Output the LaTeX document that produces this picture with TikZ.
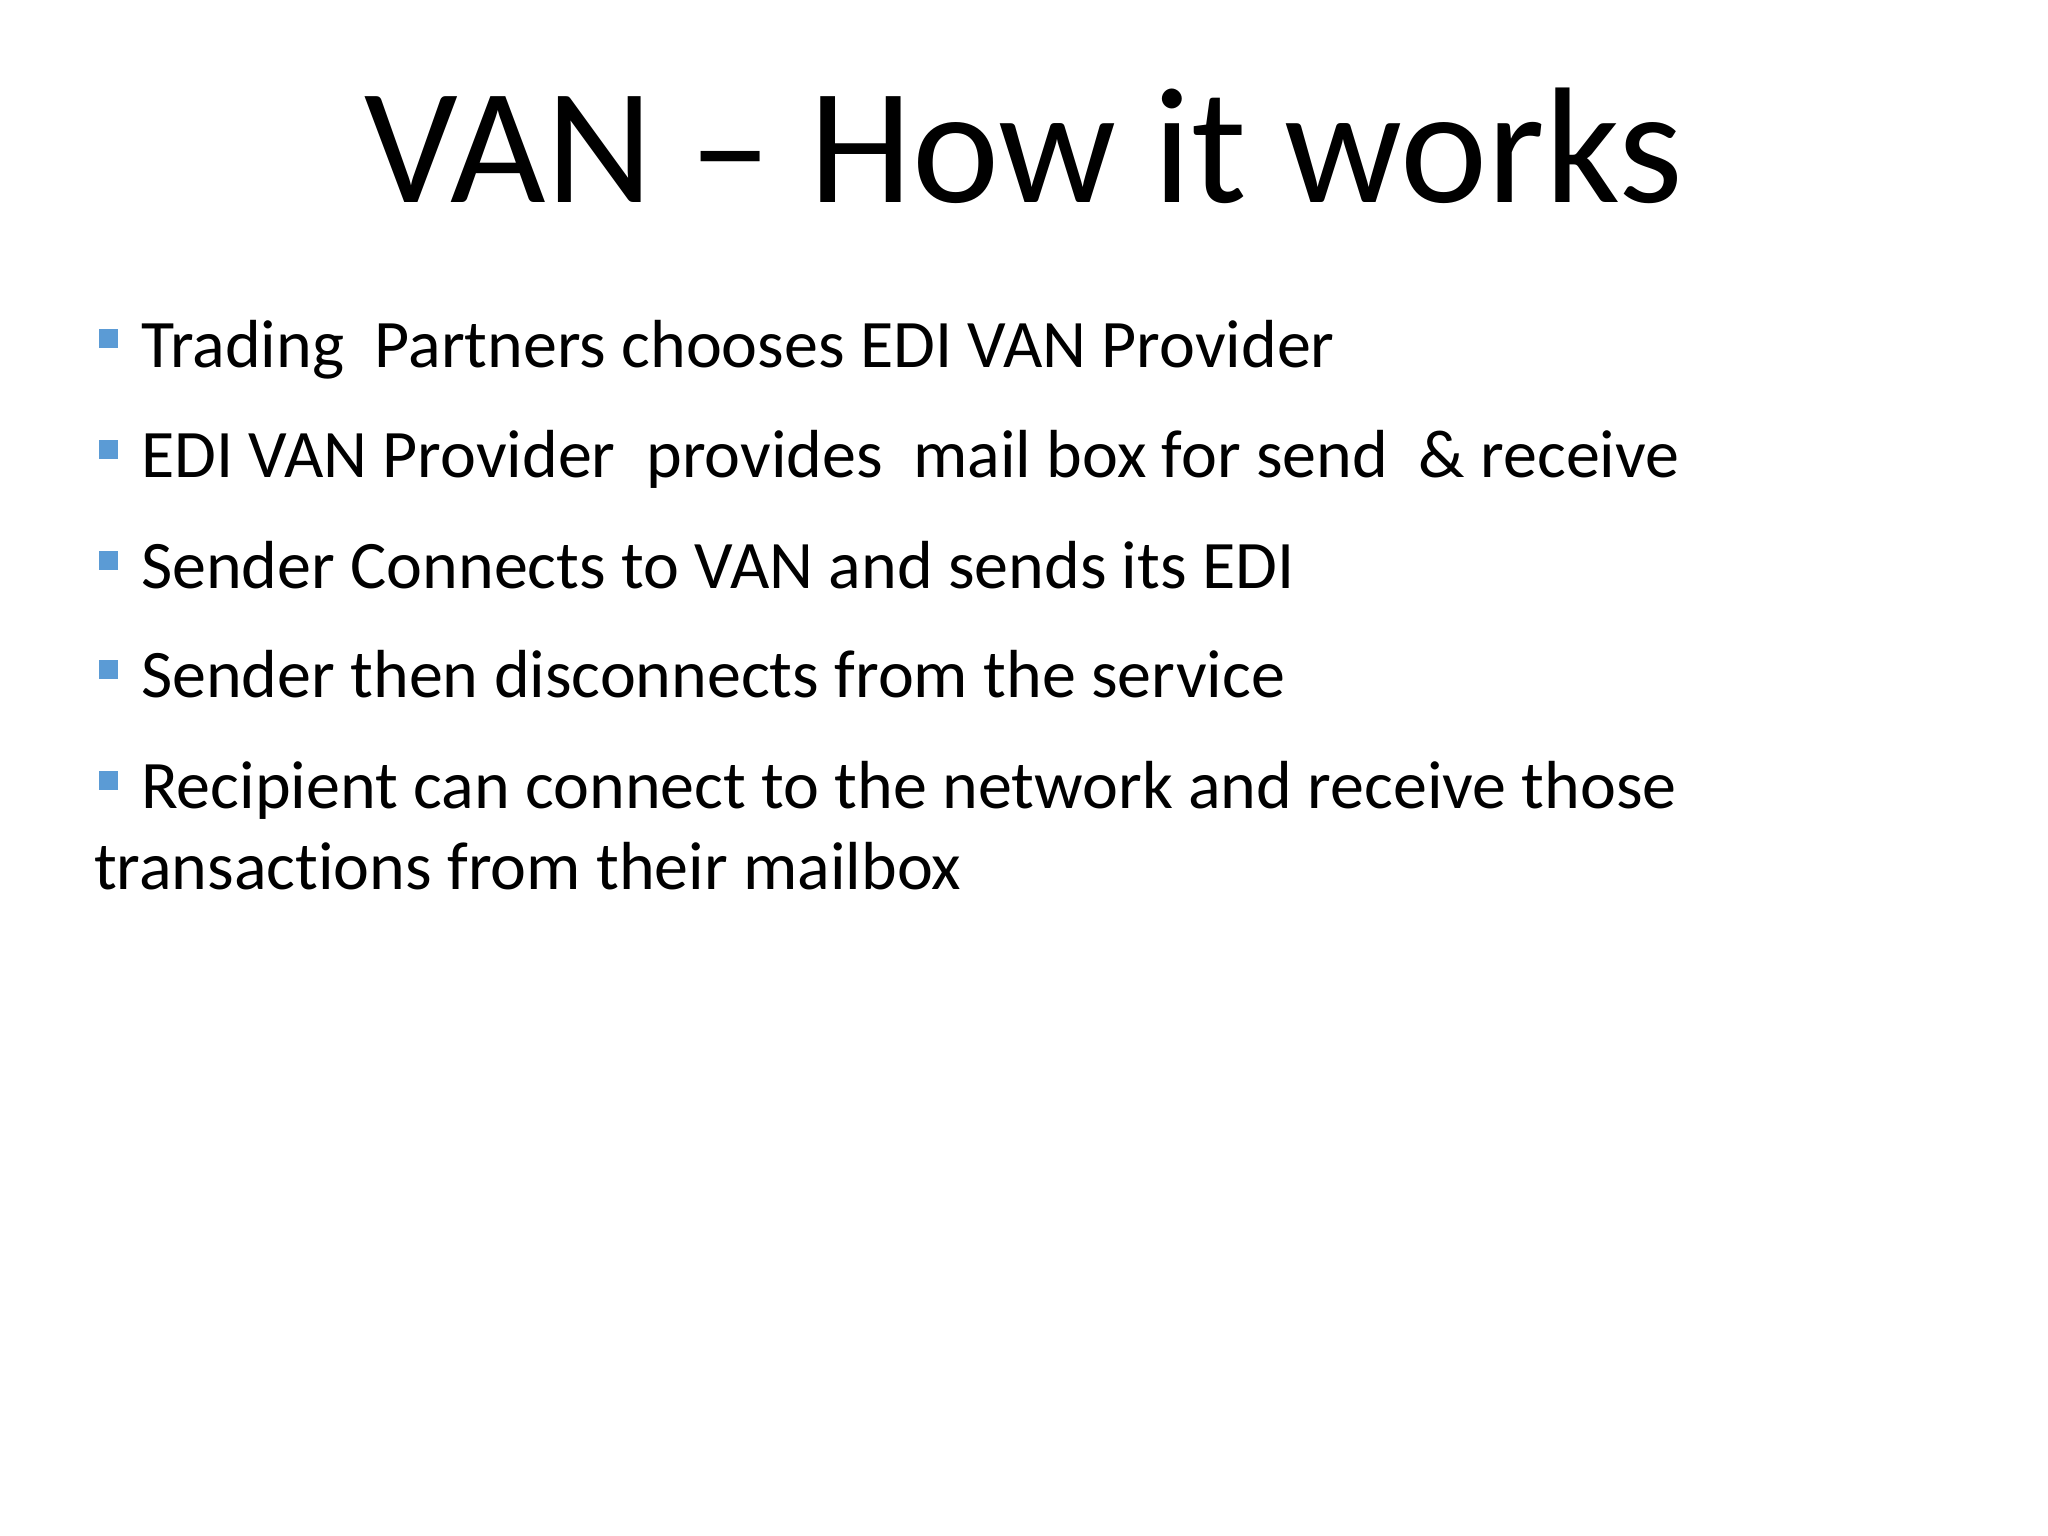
\documentclass[tikz,border=0pt]{standalone}
\usepackage{fontspec}
\setmainfont[RawFeature=-liga]{Carlito}
\definecolor{bul}{HTML}{5B9BD5}
\begin{document}
\begin{tikzpicture}[x=1pt,y=-1pt,
  txt/.style={anchor=base west,inner sep=0pt,font=\fontsize{68}{80}\selectfont},
  sq/.style={fill=bul,minimum size=19pt,inner sep=0pt,anchor=north west}]
\useasboundingbox (0,0) rectangle (2048,1536);
\node[anchor=base,inner sep=0pt,font=\fontsize{165}{190}\selectfont] (title) at (1024,202) {VAN -- How it works};
\node[sq] (b1) at (99,329) {};
\node[txt] (t1) at (141,367) {Trading\ \ Partners chooses EDI VAN Provider};
\node[sq] (b2) at (99,440) {};
\node[txt] (t2) at (141,477) {EDI VAN Provider\ \ provides\ \ mail box for send\ \ \& receive};
\node[sq] (b3) at (99,551) {};
\node[txt] (t3) at (141,588) {Sender Connects to VAN and sends its EDI};
\node[sq] (b4) at (99,660) {};
\node[txt] (t4) at (141,697) {Sender then disconnects from the service};
\node[sq] (b5) at (99,771) {};
\node[txt] (t5) at (141,808) {Recipient can connect to the network and receive those};
\node[txt] (t6) at (94,889) {transactions from their mailbox};
\end{tikzpicture}
\end{document}
